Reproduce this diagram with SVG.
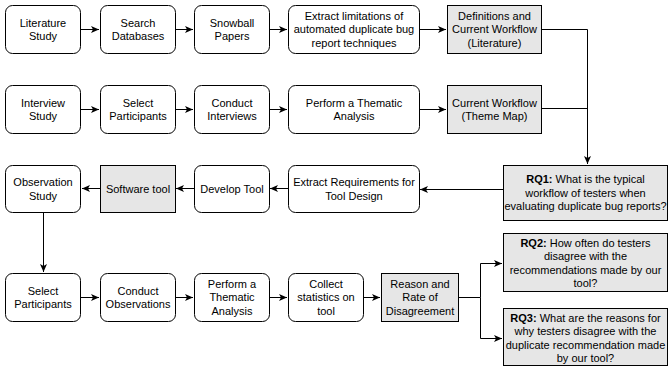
<svg xmlns="http://www.w3.org/2000/svg" width="668" height="370" viewBox="0 0 668 370">
<defs>
<marker id="ah" markerWidth="9" markerHeight="8" refX="8" refY="4" orient="auto" markerUnits="userSpaceOnUse">
<path d="M0,0.5 L8,4 L0,7.5 L2,4 Z" fill="#000"/>
</marker>
<style>
.b{fill:#fff;stroke:#000;stroke-width:1}
.g{fill:#e6e6e6;stroke:#000;stroke-width:1}
.t{font-family:"Liberation Sans",Arial,sans-serif;font-size:11px;fill:#000;text-anchor:middle}
.c{fill:none;stroke:#000;stroke-width:1}
.a{marker-end:url(#ah)}
</style>
</defs>
<rect width="668" height="370" fill="#fff"/>

<g id="connectors">
<path class="c a" d="M81,29.5H99"/>
<path class="c a" d="M175,29.5H193"/>
<path class="c a" d="M269,29.5H287"/>
<path class="c a" d="M419,29.5H446"/>
<path class="c a" d="M541,29.5H587.5V164"/>
<path class="c" d="M541,108.5H587.5"/>
<path class="c a" d="M81,109.5H99"/>
<path class="c a" d="M175,109.5H193"/>
<path class="c a" d="M269,109.5H287"/>
<path class="c a" d="M419,109.5H446"/>
<path class="c a" d="M503,189.5H420"/>
<path class="c a" d="M288,188.5H270"/>
<path class="c a" d="M194,188.5H176"/>
<path class="c a" d="M100,188.5H82"/>
<path class="c a" d="M43.5,212V272"/>
<path class="c a" d="M81,297.5H99"/>
<path class="c a" d="M175,297.5H193"/>
<path class="c a" d="M269,297.5H287"/>
<path class="c a" d="M363,297.5H380"/>
<path class="c" d="M458,297.5H480.5"/>
<path class="c a" d="M480.5,297.5V263.5H502"/>
<path class="c a" d="M480.5,297.5V338.5H502"/>
</g>

<g id="n1"><rect class="b" x="5.5" y="5.5" width="75" height="48" rx="7"/><text class="t" x="43" y="26.5">Literature</text><text class="t" x="43" y="40">Study</text></g>
<g id="n2"><rect class="b" x="100.5" y="5.5" width="75" height="48" rx="7"/><text class="t" x="138" y="26.5">Search</text><text class="t" x="138" y="40">Databases</text></g>
<g id="n3"><rect class="b" x="194.5" y="5.5" width="75" height="48" rx="7"/><text class="t" x="232" y="26.5">Snowball</text><text class="t" x="232" y="40">Papers</text></g>
<g id="n4"><rect class="b" x="288.5" y="5.5" width="131" height="48" rx="7"/><text class="t" x="354" y="19.5">Extract limitations of</text><text class="t" x="354" y="33">automated duplicate bug</text><text class="t" x="354" y="46.5">report techniques</text></g>
<g id="n5"><rect class="g" x="447.5" y="5.5" width="94" height="48"/><text class="t" x="494.5" y="19.5">Definitions and</text><text class="t" x="494.5" y="33">Current Workflow</text><text class="t" x="494.5" y="46.5">(Literature)</text></g>

<g id="n6"><rect class="b" x="5.5" y="85.5" width="75" height="48" rx="7"/><text class="t" x="43" y="106.5">Interview</text><text class="t" x="43" y="120">Study</text></g>
<g id="n7"><rect class="b" x="100.5" y="85.5" width="75" height="48" rx="7"/><text class="t" x="138" y="106.5">Select</text><text class="t" x="138" y="120">Participants</text></g>
<g id="n8"><rect class="b" x="194.5" y="85.5" width="75" height="48" rx="7"/><text class="t" x="232" y="106.5">Conduct</text><text class="t" x="232" y="120">Interviews</text></g>
<g id="n9"><rect class="b" x="288.5" y="85.5" width="131" height="48" rx="7"/><text class="t" x="354" y="106.5">Perform a Thematic</text><text class="t" x="354" y="120">Analysis</text></g>
<g id="n10"><rect class="g" x="447.5" y="85.5" width="94" height="48"/><text class="t" x="494.5" y="106.5">Current Workflow</text><text class="t" x="494.5" y="120">(Theme Map)</text></g>

<g id="n11"><rect class="b" x="5.5" y="165.5" width="75" height="47" rx="7"/><text class="t" x="43" y="186">Observation</text><text class="t" x="43" y="199.5">Study</text></g>
<g id="n12"><rect class="g" x="100.5" y="165.5" width="75" height="47"/><text class="t" x="138" y="192.5">Software tool</text></g>
<g id="n13"><rect class="b" x="194.5" y="165.5" width="75" height="47" rx="7"/><text class="t" x="232" y="192.5">Develop Tool</text></g>
<g id="n14"><rect class="b" x="288.5" y="165.5" width="131" height="47" rx="7"/><text class="t" x="354" y="186">Extract Requirements for</text><text class="t" x="354" y="199.5">Tool Design</text></g>
<g id="n15"><rect class="g" x="503.5" y="165.5" width="164" height="55"/><text class="t" x="585.5" y="183"><tspan font-weight="bold">RQ1:</tspan> What is the typical</text><text class="t" x="585.5" y="196.5">workflow of testers when</text><text class="t" x="585.5" y="210">evaluating duplicate bug reports?</text></g>

<g id="n16"><rect class="b" x="5.5" y="273.5" width="75" height="48" rx="7"/><text class="t" x="43" y="294.5">Select</text><text class="t" x="43" y="308">Participants</text></g>
<g id="n17"><rect class="b" x="100.5" y="273.5" width="75" height="48" rx="7"/><text class="t" x="138" y="294.5">Conduct</text><text class="t" x="138" y="308">Observations</text></g>
<g id="n18"><rect class="b" x="194.5" y="273.5" width="75" height="48" rx="7"/><text class="t" x="232" y="287.5">Perform a</text><text class="t" x="232" y="301">Thematic</text><text class="t" x="232" y="314.5">Analysis</text></g>
<g id="n19"><rect class="b" x="288.5" y="273.5" width="75" height="48" rx="7"/><text class="t" x="326" y="287.5">Collect</text><text class="t" x="326" y="301">statistics on</text><text class="t" x="326" y="314.5">tool</text></g>
<g id="n20"><rect class="g" x="381.5" y="273.5" width="77" height="48"/><text class="t" x="420" y="287.5">Reason and</text><text class="t" x="420" y="301">Rate of</text><text class="t" x="420" y="314.5">Disagreement</text></g>

<g id="n21"><rect class="g" x="503.5" y="233.5" width="164" height="58"/><text class="t" x="585.5" y="246.5"><tspan font-weight="bold">RQ2:</tspan> How often do testers</text><text class="t" x="585.5" y="260">disagree with the</text><text class="t" x="585.5" y="273.5">recommendations made by our</text><text class="t" x="585.5" y="287">tool?</text></g>
<g id="n22"><rect class="g" x="503.5" y="308.5" width="164" height="57"/><text class="t" x="585.5" y="321.5"><tspan font-weight="bold">RQ3:</tspan> What are the reasons for</text><text class="t" x="585.5" y="335">why testers disagree with the</text><text class="t" x="585.5" y="348.5">duplicate recommendation made</text><text class="t" x="585.5" y="362">by our tool?</text></g>
</svg>
